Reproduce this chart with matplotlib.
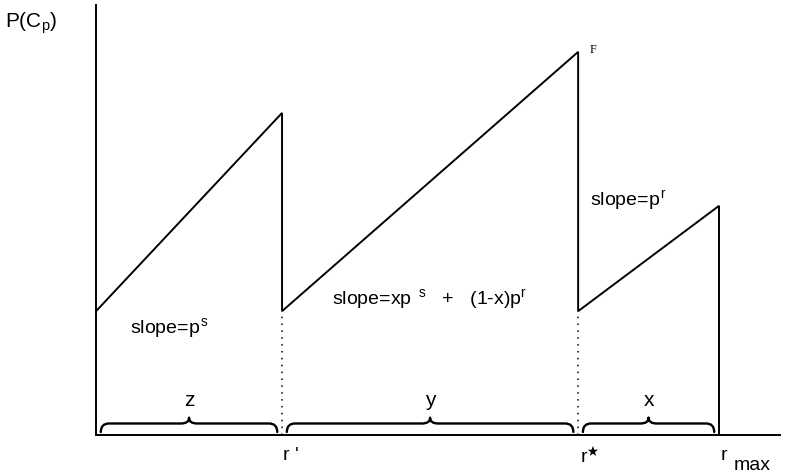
import numpy as np
import matplotlib
matplotlib.use("Agg")
import matplotlib.pyplot as plt
from matplotlib.path import Path
from matplotlib.patches import PathPatch

plt.rcParams["font.family"] = ["Liberation Sans", "DejaVu Sans"]
plt.rcParams["mathtext.fontset"] = "custom"
plt.rcParams["mathtext.rm"] = "Liberation Sans"
plt.rcParams["mathtext.it"] = "Liberation Sans"

# breakpoints along r and the value of P(C_p) at each end of the three pieces
r_points = [0.0, 2.72, 7.05, 9.11]
p_low = [2.88, 2.88, 2.88]
p_high = [7.49, 8.91, 5.33]
tick_labels = ["r '", "r$^{\\bigstar}$", "r"]
brace_labels = ["z", "y", "x"]
slope_labels = ["slope=p$^{\\mathregular{\\,s}}$",
                "slope=xp$^{\\mathregular{\\ \\ s}}$   +   (1-x)p$^{\\mathregular{r}}$",
                "slope=p$^{\\mathregular{\\,r}}$"]


def brace(ax, x0, x1, y0, h):
    # curly brace opening upwards, tip in the middle
    xm = (x0 + x1) / 2
    c = 0.12
    verts = [(x0, y0), (x0, y0 + h * 0.6), (x0 + c, y0 + h * 0.6),
             (xm - c, y0 + h * 0.6), (xm, y0 + h * 0.6), (xm, y0 + h),
             (xm, y0 + h), (xm, y0 + h * 0.6), (xm + c, y0 + h * 0.6),
             (x1 - c, y0 + h * 0.6), (x1, y0 + h * 0.6), (x1, y0)]
    codes = [Path.MOVETO, Path.CURVE3, Path.CURVE3,
             Path.LINETO, Path.CURVE3, Path.CURVE3,
             Path.MOVETO, Path.CURVE3, Path.CURVE3,
             Path.LINETO, Path.CURVE3, Path.CURVE3]
    ax.add_patch(PathPatch(Path(verts, codes), fill=False, lw=1.7, color="black",
                           capstyle="round"))


fig = plt.figure(figsize=(7.97, 4.76), dpi=100)
ax = fig.add_axes([0.1205, 0.0861, 0.858, 0.9034])
ax.set_xlim(0, 10)
ax.set_ylim(0, 10)

# sawtooth
xs, ys = [], []
for i in range(3):
    xs += [r_points[i], r_points[i + 1]]
    ys += [p_low[i], p_high[i]]
xs.append(r_points[3])
ys.append(0)
ax.plot(xs, ys, color="black", lw=1.4, solid_joinstyle="miter")

# dotted drops to the axis
for i in (1, 2):
    ax.plot([r_points[i], r_points[i]], [0, p_low[i]], color="black", lw=1.1,
            linestyle=(0, (1, 3.5)))

for sp in ("top", "right"):
    ax.spines[sp].set_visible(False)
for sp in ("left", "bottom"):
    ax.spines[sp].set_linewidth(1.4)
ax.set_xticks([])
ax.set_yticks([])

# braces and their labels
gap = 0.07
for i in range(3):
    a = r_points[i] + gap
    b = r_points[i + 1] - gap
    brace(ax, a, b, 0.07, 0.33)
    ax.text((a + b) / 2, 0.58, brace_labels[i], ha="center", va="bottom", fontsize=15)

# labels under the axis
for xv, lab in zip(r_points[1:], tick_labels):
    ax.text(xv + 0.02, -0.28, lab, ha="left", va="top", fontsize=14, clip_on=False)
ax.text(r_points[3] + 0.22, -0.5, "max", ha="left", va="top", fontsize=14, clip_on=False)

ax.text(0.5, 2.5, slope_labels[0], fontsize=14, va="center")
ax.text(3.45, 3.15, slope_labels[1], fontsize=14, va="center")
ax.text(7.22, 5.45, slope_labels[2], fontsize=14, va="center")

ax.text(7.22, 8.95, "F", fontsize=9, family="Liberation Serif", va="center")
fig.text(0.006, 0.952, "P(C$_{\\mathregular{p}}$)", fontsize=15, va="center")

fig.savefig("out.png", dpi=100)
